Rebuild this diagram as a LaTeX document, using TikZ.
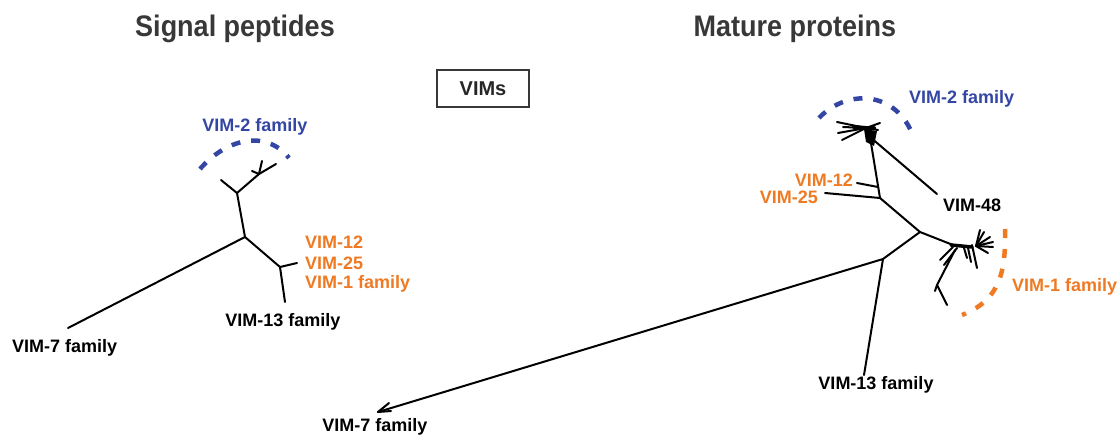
\documentclass[tikz,border=0pt]{standalone}
\usepackage{fontspec}
\setmainfont{Liberation Sans}
\definecolor{vblue}{HTML}{3446A3}
\definecolor{vorange}{HTML}{EE7A24}
\definecolor{titlegray}{HTML}{383838}
\begin{document}
\begin{tikzpicture}[x=1pt,y=-1pt,
  branch/.style={line width=2pt,line cap=round,line join=round,black},
  fam/.style={dash pattern=on 9pt off 11pt,line width=4.5pt},
  lbl/.style={font=\fontsize{18}{20}\selectfont\bfseries,inner sep=0pt},
  ttl/.style={font=\fontsize{27}{30}\selectfont\bfseries,text=titlegray,inner sep=0pt,yscale=1.1}]
\useasboundingbox (0,0) rectangle (1119,436);
% titles
\node[ttl] (t1) at (235,29) {Signal peptides};
\node[ttl] (t2) at (795,29) {Mature proteins};
\node[draw=titlegray,line width=2pt,minimum width=92pt,minimum height=37pt,
  font=\fontsize{20}{22}\selectfont\bfseries,text=black!85] (vims) at (483,88.5) {VIMs};

% ---------- left tree ----------
\coordinate (L1) at (245,237);
\coordinate (L7) at (68,328);
\coordinate (L2) at (237,193);
\coordinate (L3) at (221,180);
\coordinate (L4) at (259,174);
\coordinate (L4a) at (262,161);
\coordinate (L4b) at (276,164);
\coordinate (L4c) at (252,171);
\coordinate (L5) at (280,267);
\coordinate (L5a) at (297,263);
\coordinate (L5b) at (285,302);
\draw[branch] (L7) -- (L1) -- (L2) -- (L3);
\draw[branch] (L2) -- (L4) -- (L4a);
\draw[branch] (L4) -- (L4b);
\draw[branch] (L4) -- (L4c);
\draw[branch] (L1) -- (L5) -- (L5a);
\draw[branch] (L5) -- (L5b);
\draw[fam,vblue] (200,169) .. controls (225,140) and (265,128) .. (289,158);
\node[lbl,text=vblue] (l2f) at (255,127) {VIM-2 family};
\node[lbl,text=vorange,anchor=west] (l12) at (305,242) {VIM-12};
\node[lbl,text=vorange,anchor=west] (l25) at (305,263) {VIM-25};
\node[lbl,text=vorange,anchor=west] (l1f) at (305,284) {VIM-1 family};
\node[lbl] (l13) at (283,322) {VIM-13 family};
\node[lbl,anchor=west] (l7f) at (12,348) {VIM-7 family};

% ---------- right tree ----------
\coordinate (R0) at (883,259);
\coordinate (R7) at (378,412);
\coordinate (R7a) at (389,403);
\coordinate (R7b) at (391,411);
\coordinate (R13) at (864,375);
\coordinate (R1) at (920,232);
\coordinate (R2) at (880,198);
\coordinate (R25) at (825,193);
\coordinate (R12b) at (878,187);
\coordinate (R12) at (857,183);
\coordinate (RA) at (870,137);
\coordinate (R48) at (937,194);
\coordinate (RH) at (866,128);
\draw[branch] (R7) -- (R0) -- (R13);
\draw[branch] (R7) -- (R7a);
\draw[branch] (R7) -- (R7b);
\draw[branch] (R0) -- (R1) -- (R2) -- (R25);
\draw[branch] (R2) -- (RA) -- (R48);
\draw[branch] (R12b) -- (R12);
% VIM-2 cluster
\coordinate (RHa) at (837,122);
\coordinate (RHb) at (843,127);
\coordinate (RHc) at (838,133);
\coordinate (RHd) at (842,140);
\coordinate (RHe) at (880,123);
\coordinate (RHf) at (878,130);
\draw[branch] (RH) -- (RHa);
\draw[branch] (RH) -- (RHb);
\draw[branch] (RH) -- (RHc);
\draw[branch] (RH) -- (RHd);
\draw[branch] (RH) -- (RHe);
\draw[branch] (RH) -- (RHf);
\draw[branch,line width=4pt] (854,127) -- (RH) -- (874,128);
\fill[black] (864,129) -- (877,131) -- (874,146) -- (866,142) -- cycle;
% VIM-1 cluster
\coordinate (RB) at (953,245);
\coordinate (RC) at (976,246);
\draw[branch] (R1) -- (RB);
\draw[branch,line width=3.5pt] (951,245) -- (972,247);
\foreach \p in {(980,230),(984,232),(990,237),(993,242),(993,247),(988,253)}
  \draw[branch] (RC) -- \p;
\draw[branch] (972,245) -- (977,268);
\draw[branch] (968,248) -- (971,262);
\draw[branch] (964,248) -- (967,258);
\draw[branch] (953,247) -- (940,260);
\draw[branch] (957,248) -- (944,265);
\coordinate (RD) at (937,285);
\draw[branch] (955,250) -- (RD) -- (947,305);
\draw[branch] (RD) -- (935,291);
\draw[fam,vblue] (819,118) .. controls (845,90) and (896,88) .. (914,138);
\draw[fam,vorange] (1005,229) .. controls (1006,272) and (1000,300) .. (962,315);
\node[lbl,text=vblue,anchor=west] (r2f) at (909,99) {VIM-2 family};
\node[lbl,text=vorange,anchor=east] (r12) at (853,180) {VIM-12};
\node[lbl,text=vorange,anchor=east] (r25) at (818,197) {VIM-25};
\node[lbl] (r48) at (972,205) {VIM-48};
\node[lbl,text=vorange,anchor=west] (r1f) at (1012,287) {VIM-1 family};
\node[lbl] (r13) at (876,385) {VIM-13 family};
\node[lbl] (r7f) at (375,427) {VIM-7 family};
\end{tikzpicture}
\end{document}
